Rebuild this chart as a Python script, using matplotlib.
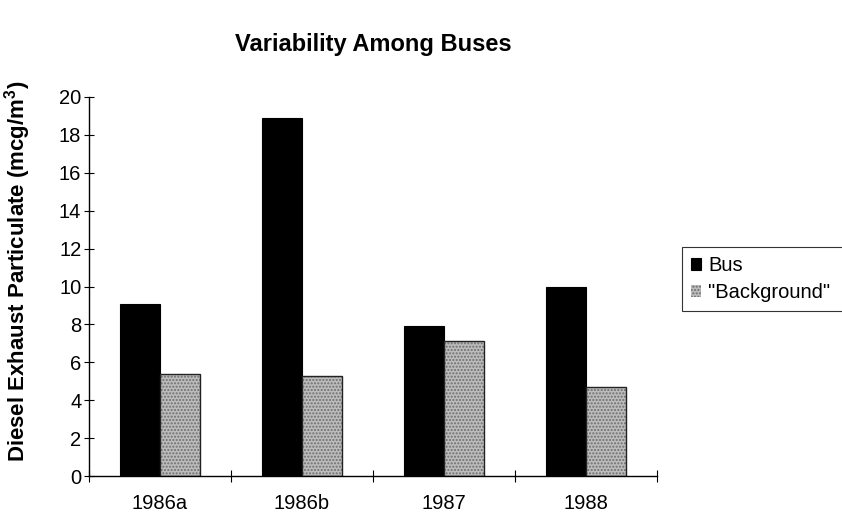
import numpy as np
import matplotlib
matplotlib.use('Agg')
import matplotlib.pyplot as plt

plt.rcParams['font.family'] = ['Liberation Sans', 'DejaVu Sans']

# Data.
years = ['1986a', '1986b', '1987', '1988']
bus = [9.1, 18.9, 7.9, 10.0]
background = [5.4, 5.3, 7.1, 4.7]

fig = plt.figure(figsize=(8.42, 5.19), dpi=100)
ax = fig.add_axes([89 / 842, 1 - 476 / 519, (657 - 89) / 842, (476 - 97) / 519])

x = np.arange(len(years)) + 0.5
width = 0.285

# Bus bars.
ax.bar(x - width / 2, bus, width, color='black', edgecolor='black',
       linewidth=0.8, label='Bus')

# Background bars: stippled grey fill plus a dark outline.
ax.bar(x + width / 2, background, width, color='#bcbcbc', edgecolor='#6e6e6e',
       hatch='.....', linewidth=0, label='"Background"')
ax.bar(x + width / 2, background, width, fill=False, edgecolor='#222222',
       linewidth=1.0)

ax.set_xlim(0, len(years))
ax.set_ylim(0, 20)
ax.set_yticks(range(0, 21, 2))
ax.set_xticks(x)
ax.set_xticklabels(years)
ax.set_xticks(np.arange(len(years) + 1), minor=True)

ax.tick_params(axis='y', direction='inout', length=7, width=0.8,
               labelsize=14.5, pad=2)
ax.tick_params(axis='x', which='major', length=0, labelsize=14.5, pad=13)
ax.tick_params(axis='x', which='minor', direction='inout', length=8,
               width=0.8)

for side in ('top', 'right'):
    ax.spines[side].set_visible(False)
for side in ('left', 'bottom'):
    ax.spines[side].set_linewidth(1.0)
    ax.spines[side].set_color('black')

fig.text(373 / 842, 1 - 45 / 519, 'Variability Among Buses', ha='center',
         va='center', fontsize=17, fontweight='bold')
fig.text(18 / 842, 1 - 271 / 519,
         'Diesel Exhaust Particulate (mcg/m$^\\mathregular{3}$)',
         rotation=90, ha='center', va='center', fontsize=16,
         fontweight='bold')

# Legend box runs off the right edge, as in the original.
handles, labels = ax.get_legend_handles_labels()
leg = fig.legend(handles, labels, loc='upper left', mode='expand',
                 bbox_to_anchor=(682 / 842, 1 - 247 / 519, 0.2, 0),
                 fontsize=14.5, frameon=True, fancybox=False,
                 edgecolor='black', handlelength=0.5, handleheight=0.5,
                 handletextpad=0.35, borderpad=0.45, labelspacing=0.4,
                 borderaxespad=0)
leg.get_frame().set_linewidth(0.8)

fig.savefig('out.png', dpi=100)
